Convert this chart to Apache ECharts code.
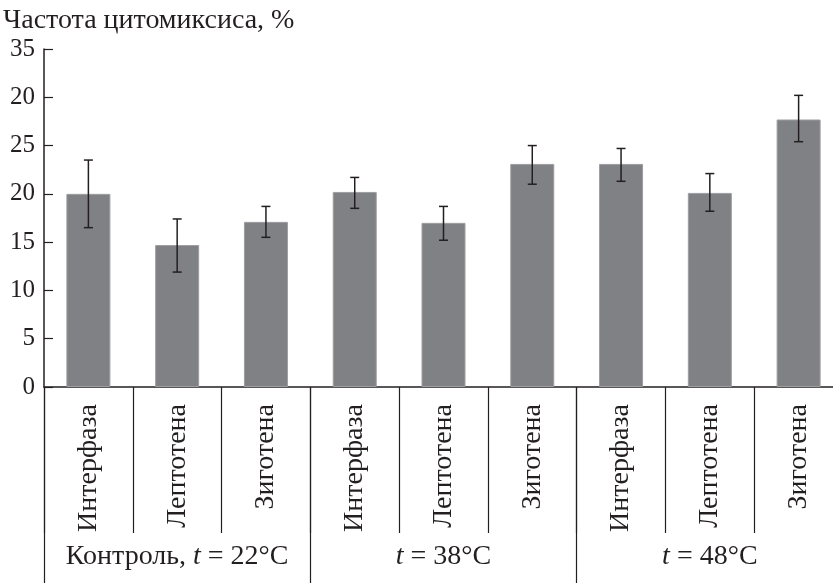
<!DOCTYPE html>
<html>
<head>
<meta charset="utf-8">
<script src="https://cdn.jsdelivr.net/npm/echarts@6/dist/echarts.min.js"></script>
<style>html,body{margin:0;padding:0;background:#fff;overflow:hidden;width:833px;height:583px}#c{width:860px;height:583px}</style>
</head>
<body>
<div id="c"></div>
<script>
const title = 'Частота цитомиксиса, %';
const stages = ['Интерфаза','Лептотена','Зиготена','Интерфаза','Лептотена','Зиготена','Интерфаза','Лептотена','Зиготена'];
const groups = ['Контроль, t = 22°C','t = 38°C','t = 48°C'];
const values = [20.0, 14.7, 17.1, 20.2, 17.0, 23.1, 23.1, 20.1, 27.7];
const errLow = [16.5, 11.9, 15.5, 18.5, 15.2, 21.0, 21.3, 18.2, 25.4];
const errHigh = [23.5, 17.4, 18.7, 21.7, 18.7, 25.0, 24.7, 22.1, 30.2];
const yTickLabels = ['0','5','10','15','20','25','20','35'];

const FONT = '"Liberation Serif", "DejaVu Serif", serif';
const TXT = '#231f20';
const chart = echarts.init(document.getElementById('c'), null, {renderer:'canvas'});

function groupLabel(v){
  const i = v.indexOf('t = ');
  return v.slice(0, i) + '{i|t}' + v.slice(i + 1);
}

chart.setOption({
  animation:false,
  textStyle:{fontFamily:FONT},
  title:{text:title,left:-2,top:2,textStyle:{fontFamily:FONT,fontSize:28,fontWeight:'normal',color:TXT}},
  grid:{left:44,top:49,width:799,height:338,containLabel:false},
  xAxis:[{
    type:'category',data:stages,position:'bottom',
    axisLine:{show:true,lineStyle:{color:TXT,width:1.5}},
    axisTick:{show:true,length:146,lineStyle:{color:TXT,width:1.2}},
    axisLabel:{rotate:90,margin:17,fontFamily:FONT,fontSize:28,color:TXT,interval:0}
  },{
    type:'category',data:groups,position:'bottom',
    axisLine:{show:false},
    axisTick:{show:true,length:196,lineStyle:{color:TXT,width:1.2}},
    axisLabel:{margin:156,fontFamily:FONT,fontSize:28,color:TXT,interval:0,
      formatter:groupLabel,rich:{i:{fontFamily:FONT,fontStyle:'italic',fontSize:28,color:TXT}}}
  }],
  yAxis:{
    type:'value',min:0,max:35,interval:5,
    axisLine:{show:true,lineStyle:{color:TXT,width:1.5}},
    axisTick:{show:true,inside:true,length:9,lineStyle:{color:TXT,width:1.2}},
    splitLine:{show:false},
    axisLabel:{margin:9,fontFamily:FONT,fontSize:25,color:TXT,
      formatter:function(v){return yTickLabels[Math.round(v/5)];}}
  },
  series:[{
    type:'bar',data:values,barWidth:44,xAxisIndex:0,
    itemStyle:{color:'#808185',borderColor:'#9d9ea1',borderWidth:1}
  },{
    type:'custom',xAxisIndex:0,
    data:stages.map((s,i)=>[i,errLow[i],errHigh[i]]),
    renderItem:function(params,api){
      const lo = api.coord([api.value(0),api.value(1)]);
      const hi = api.coord([api.value(0),api.value(2)]);
      const hw = 4.5;
      const st = {stroke:TXT,lineWidth:1.5};
      return {type:'group',children:[
        {type:'line',shape:{x1:lo[0],y1:lo[1],x2:hi[0],y2:hi[1]},style:st},
        {type:'line',shape:{x1:lo[0]-hw,y1:lo[1],x2:lo[0]+hw,y2:lo[1]},style:st},
        {type:'line',shape:{x1:hi[0]-hw,y1:hi[1],x2:hi[0]+hw,y2:hi[1]},style:st}
      ]};
    },
    z:5
  }]
});
</script>
</body>
</html>
